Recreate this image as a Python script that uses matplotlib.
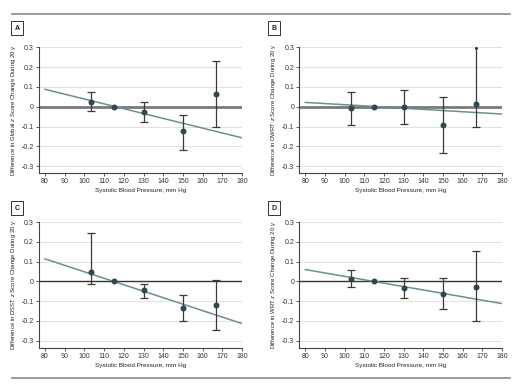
import matplotlib
matplotlib.use("Agg")
import matplotlib.pyplot as plt
from matplotlib.lines import Line2D
from matplotlib import font_manager

names = {f.name for f in font_manager.fontManager.ttflist}
base = 'Liberation Sans Narrow' if 'Liberation Sans Narrow' in names else 'Liberation Sans'
plt.rcParams['font.family'] = [base, 'DejaVu Sans']
plt.rcParams['mathtext.fontset'] = 'custom'
plt.rcParams['mathtext.it'] = base + ':italic'
plt.rcParams['mathtext.rm'] = base

W, H = 530, 391
DPI = 100

sbp = [103.4, 115, 130, 150, 166.8]
fit_x = [80, 180]
xticks = [80, 90, 100, 110, 120, 130, 140, 150, 160, 170, 180]
yticks = [-0.3, -0.2, -0.1, 0, 0.1, 0.2, 0.3]
yticklabels = ['-0.3', '-0.2', '-0.1', '0', '0.1', '0.2', '0.3']

panel_letters = ['A', 'B', 'C', 'D']
ylabels = [
    r"Difference in Global $z$ Score Change During 20 y",
    r"Difference in DWRT $z$ Score Change During 20 y",
    r"Difference in DSST $z$ Score Change During 20 y",
    r"Difference in WRT $z$ Score Change During 20 y",
]
xlabel = "Systolic Blood Pressure, mm Hg"

est_A = [0.025, 0.0, -0.025, -0.125, 0.066]
lo_A = [-0.024, 0.0, -0.079, -0.219, -0.100]
hi_A = [0.074, 0.0, 0.022, -0.040, 0.229]
fit_A = [0.088, -0.157]

est_B = [-0.005, 0.0, -0.002, -0.091, 0.015]
lo_B = [-0.091, 0.0, -0.088, -0.234, -0.100]
hi_B = [0.074, 0.0, 0.086, 0.050, 0.300]
fit_B = [0.022, -0.037]

est_C = [0.049, 0.0, -0.044, -0.134, -0.117]
lo_C = [-0.012, 0.0, -0.084, -0.198, -0.245]
hi_C = [0.245, 0.0, -0.013, -0.070, 0.007]
fit_C = [0.114, -0.213]

est_D = [0.013, 0.0, -0.035, -0.062, -0.027]
lo_D = [-0.030, 0.0, -0.082, -0.137, -0.201]
hi_D = [0.060, 0.0, 0.017, 0.017, 0.154]
fit_D = [0.060, -0.112]

panels = [
    (est_A, lo_A, hi_A, fit_A),
    (est_B, lo_B, hi_B, fit_B),
    (est_C, lo_C, hi_C, fit_C),
    (est_D, lo_D, hi_D, fit_D),
]
open_top = [False, True, False, False]

# pixel boxes: left, right, top, bottom
boxes = [
    (38.7, 242, 47, 173),
    (299, 502, 47, 173),
    (38.7, 242, 221.7, 347.7),
    (299, 502, 221.7, 347.7),
]
label_pos = [(17, 28), (274, 28), (17, 208), (274, 208)]
zero_style = [('#7a7a7a', 2.0), ('#7a7a7a', 2.0), ('#333333', 1.0), ('#333333', 1.0)]

fig = plt.figure(figsize=(W / DPI, H / DPI), dpi=DPI)
fig.patch.set_facecolor('white')
renderer = fig.canvas.get_renderer()


def fit_size(s, target_px, size0=6.0):
    t = fig.text(0, 0, s, fontsize=size0)
    w = t.get_window_extent(renderer).width
    t.remove()
    return size0 * target_px / w


ysize = fit_size(ylabels[0], 132)
xsize = fit_size(xlabel, 92)
tsize = 5.0

for i, ((est, lo, hi, fit), (l, r, t, b)) in enumerate(zip(panels, boxes)):
    ax = fig.add_axes([l / W, 1 - b / H, (r - l) / W, (b - t) / H])
    ax.set_xlim(76.8, 180)
    ax.set_ylim(-0.335, 0.302)
    for yv in yticks:
        if yv != 0:
            ax.axhline(yv, color='#e2e2e2', lw=0.8, zorder=0)
    zc, zw = zero_style[i]
    ax.axhline(0, color=zc, lw=zw, zorder=1)
    ax.plot(fit_x, fit, color='#6d8e8e', lw=1.1, zorder=2)
    for j, (x, e, lo_, hi_) in enumerate(zip(sbp, est, lo, hi)):
        if hi_ == lo_:
            continue
        ax.vlines(x, lo_, hi_, color='#3a3a3a', lw=0.9, zorder=3)
        ax.plot([x], [lo_], marker='_', ms=6, mew=0.9, color='#3a3a3a', zorder=3)
        if open_top[i] and j == len(sbp) - 1:
            ax.plot([x], [hi_], marker='^', color='#222222', ms=2.6, mew=0, zorder=5)
        else:
            ax.plot([x], [hi_], marker='_', ms=6, mew=0.9, color='#3a3a3a', zorder=3)
    ax.plot(sbp, est, 'o', color='#2f4753', ms=4.3, zorder=4, markeredgewidth=0)
    ax.set_xticks(xticks)
    ax.set_xticklabels([str(v) for v in xticks], fontsize=tsize, color='#333333')
    ax.set_yticks(yticks)
    ax.set_yticklabels(yticklabels, fontsize=tsize, color='#333333')
    ax.tick_params(length=2, width=0.6, color='#444444', pad=1.5)
    for s in ['top', 'right']:
        ax.spines[s].set_visible(False)
    for s in ['left', 'bottom']:
        ax.spines[s].set_color('#444444')
        ax.spines[s].set_linewidth(0.8)
    ax.set_xlabel(xlabel, fontsize=xsize, color='#222222', labelpad=2.5)
    ax.set_ylabel(ylabels[i], fontsize=ysize, color='#222222', labelpad=2.5)
    lx, ly = label_pos[i]
    fig.text(lx / W, 1 - ly / H, panel_letters[i], fontsize=5, fontweight='bold',
             ha='center', va='center', color='#222222',
             bbox=dict(boxstyle='square,pad=0.45', fc='white', ec='#333333', lw=0.7))

fig.add_artist(Line2D([12 / W, 510 / W], [1 - 13.5 / H, 1 - 13.5 / H], color='#8a8a8a', lw=1.2))
fig.add_artist(Line2D([12 / W, 510 / W], [1 - 378 / H, 1 - 378 / H], color='#8a8a8a', lw=1.2))

fig.savefig('out.png', dpi=DPI, facecolor='white')
